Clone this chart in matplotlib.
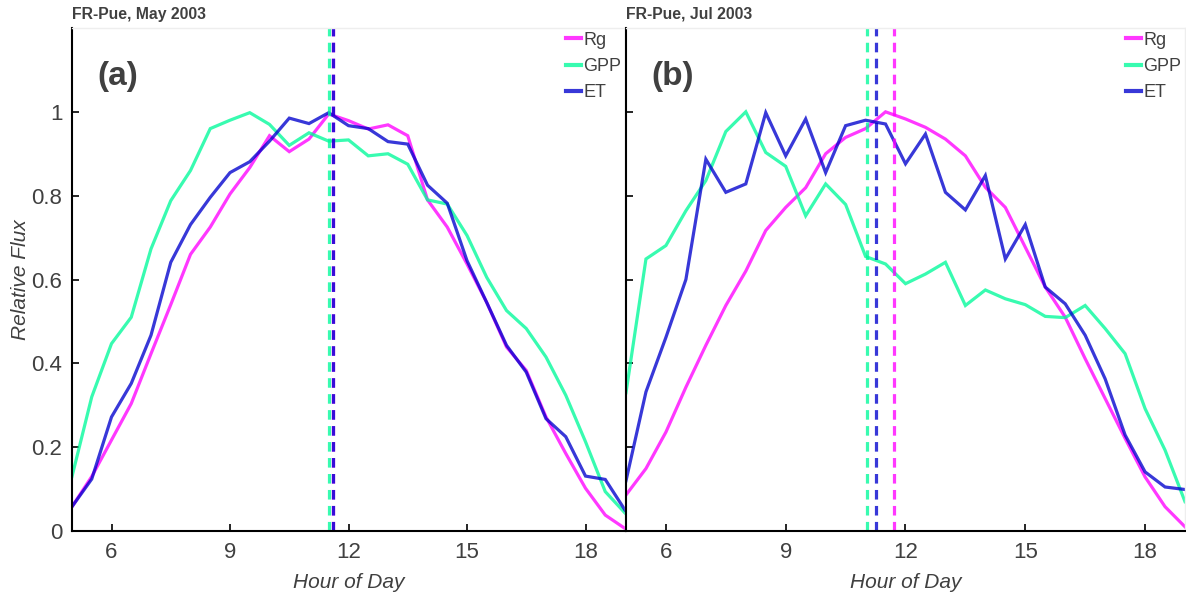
import numpy as np
import matplotlib
matplotlib.use("Agg")
import matplotlib.pyplot as plt
from matplotlib.ticker import FormatStrFormatter

plt.rcParams["font.family"] = ["Liberation Sans", "DejaVu Sans"]

# half-hourly hours 5.0 .. 19.0
hours = np.arange(5.0, 19.01, 0.5)

# FR-Pue, May 2003
rg_may = [0.058, 0.13, 0.217, 0.304, 0.423, 0.54, 0.66, 0.725, 0.804, 0.867,
          0.943, 0.905, 0.935, 0.995, 0.979, 0.959, 0.969, 0.943, 0.79, 0.725,
          0.637, 0.545, 0.439, 0.383, 0.272, 0.185, 0.102, 0.038, 0.006]
gpp_may = [0.13, 0.32, 0.447, 0.51, 0.673, 0.788, 0.86, 0.96, 0.98, 0.998,
           0.97, 0.92, 0.95, 0.93, 0.933, 0.895, 0.90, 0.875, 0.79, 0.78,
           0.705, 0.605, 0.526, 0.483, 0.415, 0.324, 0.213, 0.094, 0.043]
et_may = [0.058, 0.124, 0.272, 0.352, 0.467, 0.641, 0.731, 0.796, 0.855, 0.881,
          0.93, 0.985, 0.972, 0.998, 0.967, 0.96, 0.929, 0.923, 0.825, 0.782,
          0.645, 0.545, 0.443, 0.379, 0.268, 0.225, 0.131, 0.123, 0.05]
peak_may = {"Rg": 11.6, "GPP": 11.5, "ET": 11.6}

# FR-Pue, Jul 2003
rg_jul = [0.086, 0.149, 0.236, 0.343, 0.443, 0.538, 0.62, 0.717, 0.772, 0.819,
          0.9, 0.939, 0.96, 1.0, 0.983, 0.963, 0.935, 0.895, 0.82, 0.772,
          0.677, 0.582, 0.51, 0.411, 0.316, 0.221, 0.129, 0.058, 0.01]
gpp_jul = [0.33, 0.649, 0.681, 0.764, 0.836, 0.953, 1.0, 0.903, 0.87, 0.752,
           0.828, 0.779, 0.655, 0.637, 0.59, 0.613, 0.641, 0.538, 0.575, 0.554,
           0.54, 0.512, 0.509, 0.538, 0.483, 0.423, 0.292, 0.193, 0.07]
et_jul = [0.12, 0.332, 0.462, 0.6, 0.887, 0.808, 0.828, 0.998, 0.895, 0.983,
          0.855, 0.967, 0.98, 0.971, 0.876, 0.947, 0.808, 0.766, 0.848, 0.649,
          0.731, 0.582, 0.542, 0.467, 0.363, 0.229, 0.141, 0.105, 0.099]
peak_jul = {"Rg": 11.7, "GPP": 11.03, "ET": 11.25}

titles = ["FR-Pue, May 2003", "FR-Pue, Jul 2003"]
panel_tags = ["(a)", "(b)"]
colors = {"Rg": "#ff00ff", "GPP": "#00fa9a", "ET": "#0000cd"}
TXT = "#404040"

fig = plt.figure(figsize=(11.86, 5.94), dpi=100)
ax_a = fig.add_axes([72 / 1186, 1 - 531 / 594, 553 / 1186, 503 / 594])
ax_b = fig.add_axes([626 / 1186, 1 - 531 / 594, 559 / 1186, 503 / 594])

panels = [
    (ax_a, {"Rg": rg_may, "GPP": gpp_may, "ET": et_may}, peak_may),
    (ax_b, {"Rg": rg_jul, "GPP": gpp_jul, "ET": et_jul}, peak_jul),
]

for i, (ax, series, peaks) in enumerate(panels):
    for name in ["Rg", "GPP", "ET"]:
        ax.plot(hours, series[name], color=colors[name], lw=2.3, alpha=0.78,
                label=name, solid_joinstyle="miter")
    for name in ["GPP", "Rg", "ET"]:
        ax.axvline(peaks[name], color=colors[name], lw=2.3, alpha=0.78,
                   linestyle=(0, (3, 2)))
    ax.set_xlim(5, 19)
    ax.set_ylim(0, 1.2)
    ax.set_xticks([6, 9, 12, 15, 18])
    ax.set_yticks([0, 0.2, 0.4, 0.6, 0.8, 1.0])
    ax.yaxis.set_major_formatter(FormatStrFormatter("%g"))
    ax.tick_params(direction="in", length=5, width=1.2, colors="black",
                   labelcolor=TXT, labelsize=16)
    ax.tick_params(axis="x", pad=8)
    ax.tick_params(axis="y", pad=7)
    for s in ["left", "bottom"]:
        ax.spines[s].set_linewidth(1.5)
        ax.spines[s].set_color("black")
    for s in ["top", "right"]:
        ax.spines[s].set_color("#eeeeee")
        ax.spines[s].set_linewidth(1)
    ax.set_xlabel("Hour of Day", style="italic", fontsize=15, color=TXT,
                  labelpad=7)
    ax.text(0.045, 0.903, panel_tags[i], transform=ax.transAxes,
            fontsize=24, fontweight="bold", color=TXT, ha="left", va="center")
    ax.text(0.0, 1.027, titles[i], transform=ax.transAxes, fontsize=11.3,
            fontweight="bold", color=TXT, ha="left", va="center")
    leg = ax.legend(loc="upper right", frameon=False, fontsize=13,
                    handlelength=0.8, handletextpad=0.15, labelspacing=0.52,
                    borderaxespad=0.1, borderpad=0.1)
    for t in leg.get_texts():
        t.set_color(TXT)
    for h in leg.get_lines():
        h.set_linewidth(3)

ax_b.tick_params(axis="y", labelleft=False)
ax_a.set_ylabel("Relative Flux", style="italic", fontsize=15, color=TXT,
                labelpad=1)

fig.savefig("out.png", dpi=100)
